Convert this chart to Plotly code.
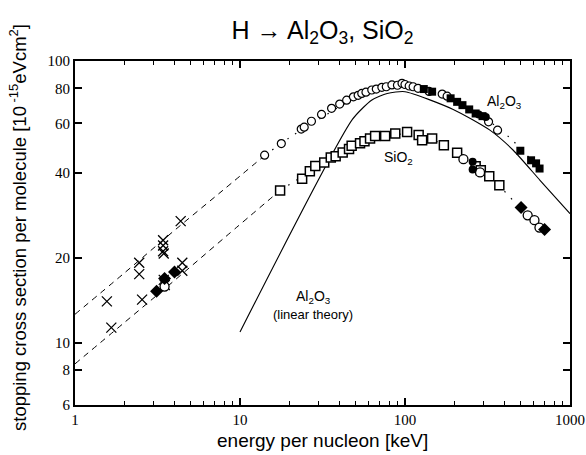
import plotly.graph_objects as go

# ---- data ----
# low-energy crosses (both targets)
cross_x = [1.56, 1.66, 2.45, 2.45, 2.55, 3.42, 3.42, 3.42, 3.45, 3.45, 3.50, 4.37, 4.47, 4.47]
cross_y = [14.0, 11.3, 19.2, 17.5, 14.2, 23.1, 22.1, 21.1, 20.7, 16.7, 16.0, 27.0, 19.2, 18.0]

# Al2O3 open circles
al_circ_x = [14.1, 17.8, 23.5, 24.5, 27.1, 31.2, 35.9, 40.2, 44.3, 48.7, 52, 54.7, 58, 62.9, 67,
             72.4, 77, 83.3, 90, 95.9, 100, 106, 112, 120, 140, 168, 180, 321, 364]
al_circ_y = [46.3, 50.9, 57.3, 58.2, 61.1, 64.6, 67.9, 70.3, 72.6, 74.6, 75.5, 76.7, 77.5, 78.9, 79.5,
             80.6, 81.0, 82.2, 82.0, 83.3, 82.5, 81.5, 81.0, 80.0, 78.0, 76.3, 75.0, 60.8, 56.8]
# Al2O3 filled squares
al_sq_x = [130, 146, 189, 207, 223, 245, 268, 295, 500, 581, 623, 654]
al_sq_y = [79.5, 77.8, 73.7, 71.6, 69.7, 67.3, 65.1, 63.7, 48.0, 44.4, 43.3, 41.5]
# Al2O3 filled circles
al_fc_x = [309, 280]
al_fc_y = [63.3, 64.5]

# SiO2 open squares
si_sq_x = [17.5, 23.8, 26.5, 28.6, 32.4, 35.5, 38.0, 41.9, 45.8, 47.5, 53.4, 56.8, 61.4, 65.9, 75.8,
           87.3, 103, 121, 127, 146, 172, 207, 268, 288, 324, 373]
si_sq_y = [34.7, 38.2, 40.6, 42.4, 43.6, 45.4, 45.9, 47.3, 48.7, 50.0, 51.0, 51.9, 53.1, 54.1, 54.2,
           55.3, 56.0, 54.6, 52.3, 53.1, 50.2, 47.2, 42.3, 40.9, 39.0, 36.2]
# SiO2 open circles
si_circ_x = [3.49, 226, 285, 554, 609, 653]
si_circ_y = [15.8, 44.8, 40.2, 28.3, 27.2, 25.6]
# SiO2 filled circles
si_fc_x = [257, 257]
si_fc_y = [43.9, 41.2]
# filled diamonds
dia_x = [3.12, 3.49, 4.01, 505, 701]
dia_y = [15.2, 16.9, 17.8, 30.2, 25.2]

# fitted curves (dashed at low energy, dotted through the data)
fit_al_x = [1, 2, 4, 8, 14, 20, 30, 45, 65, 90, 110, 150, 200, 300, 400, 500, 660]
fit_al_y = [12.6, 17.7, 25, 35, 46, 53.5, 62, 71.5, 78.5, 81.5, 81, 77.5, 72.5, 63, 55.5, 49, 41]
fit_al_split = 14
fit_si_x = [1, 2, 4, 8, 17.5, 24, 30, 40, 55, 75, 100, 130, 170, 210, 270, 330, 400, 500, 600, 700]
fit_si_y = [8.4, 11.8, 16.6, 23.5, 34.7, 39, 42.5, 46.5, 51, 54, 55, 54, 50.5, 47.5, 42.5, 38.8, 34.5, 30, 26.8, 24.8]
fit_si_split = 17.5

# linear theory (Al2O3)
lin_x = [10, 48, 63, 78, 100, 196, 327, 453, 658, 1000]
lin_y = [10.9, 62, 72.7, 76.7, 77.8, 67.3, 56.8, 48.2, 37.7, 28.7]

x_tickvals = [1, 10, 100, 1000]
x_ticktext = ["1", "10", "100", "1000"]
y_tickvals = [6, 8, 10, 20, 40, 60, 80, 100]
y_ticktext = ["6", "8", "10", "20", "40", "60", "80", "100"]

fig = go.Figure()

def split(xs, ys, s):
    lo = [(x, y) for x, y in zip(xs, ys) if x <= s]
    hi = [(x, y) for x, y in zip(xs, ys) if x >= s]
    return [p[0] for p in lo], [p[1] for p in lo], [p[0] for p in hi], [p[1] for p in hi]

for fx, fy, sp in [(fit_al_x, fit_al_y, fit_al_split), (fit_si_x, fit_si_y, fit_si_split)]:
    lx, ly, hx, hy = split(fx, fy, sp)
    fig.add_trace(go.Scatter(x=lx, y=ly, mode="lines", line=dict(color="black", width=1, dash="6px,5px", shape="spline")))
    fig.add_trace(go.Scatter(x=hx, y=hy, mode="lines", line=dict(color="black", width=1.2, dash="1.5px,8px", shape="spline")))

fig.add_trace(go.Scatter(x=lin_x, y=lin_y, mode="lines", line=dict(color="black", width=1.1, shape="spline", smoothing=0.6)))

fig.add_trace(go.Scatter(x=cross_x, y=cross_y, mode="markers",
                         marker=dict(symbol="x-thin-open", size=10, color="black", line=dict(color="black", width=1.3))))
fig.add_trace(go.Scatter(x=si_sq_x, y=si_sq_y, mode="markers",
                         marker=dict(symbol="square", size=9, color="white", line=dict(color="black", width=1.5))))
fig.add_trace(go.Scatter(x=al_circ_x, y=al_circ_y, mode="markers",
                         marker=dict(symbol="circle", size=8, color="white", line=dict(color="black", width=1.2))))
fig.add_trace(go.Scatter(x=si_circ_x, y=si_circ_y, mode="markers",
                         marker=dict(symbol="circle", size=9, color="white", line=dict(color="black", width=1.3))))
fig.add_trace(go.Scatter(x=al_sq_x, y=al_sq_y, mode="markers",
                         marker=dict(symbol="square", size=8, color="black")))
fig.add_trace(go.Scatter(x=al_fc_x + si_fc_x, y=al_fc_y + si_fc_y, mode="markers",
                         marker=dict(symbol="circle", size=8, color="black")))
fig.add_trace(go.Scatter(x=dia_x, y=dia_y, mode="markers",
                         marker=dict(symbol="diamond", size=10, color="black")))

W, H = 586, 455
L, R, T, B = 75, 16, 61, 50
pw, ph = W - L - R, H - T - B

sans = "Liberation Sans, Arial, sans-serif"
ann_font = dict(family=sans, size=14, color="black")
fig.add_annotation(x=2.606, y=1.855, xref="x", yref="y", text="Al<sub>2</sub>O<sub>3</sub>",
                   showarrow=False, font=ann_font)
fig.add_annotation(x=1.958, y=1.655, xref="x", yref="y", text="SiO<sub>2</sub>",
                   showarrow=False, font=ann_font)
fig.add_annotation(x=1.442, y=1.132, xref="x", yref="y",
                   text="Al<sub>2</sub>O<sub>3</sub><br><span style='font-size:13px'>(linear theory)</span>",
                   showarrow=False, font=ann_font)
# y-axis title
fig.add_annotation(x=(18 - L) / pw, y=1 - (228 - T) / ph, xref="paper", yref="paper", textangle=-90,
                   text="stopping cross section per molecule [10<sup> -15</sup>eVcm<sup>2</sup>]",
                   showarrow=False, xanchor="center", yanchor="middle",
                   font=dict(family=sans, size=18.5, color="black"))
# x-axis title
fig.add_annotation(x=0.5, y=-(440 - (H - B)) / ph, xref="paper", yref="paper", yanchor="middle",
                   text="energy per nucleon [keV]", showarrow=False,
                   font=dict(family=sans, size=19, color="black"))

axis_common = dict(showline=True, linecolor="black", linewidth=2, mirror="ticks", ticks="inside",
                   tickcolor="black", tickwidth=1.5, ticklen=7, showgrid=False, zeroline=False,
                   automargin=False,
                   tickfont=dict(family="Liberation Serif, Times New Roman, serif", size=15, color="black"))

minor_x = [m * d for d in (1, 10, 100) for m in range(2, 10)]
fig.update_xaxes(type="log", range=[0, 3], tickvals=x_tickvals, ticktext=x_ticktext,
                 minor=dict(tickvals=minor_x, ticks="inside", ticklen=4, tickcolor="black", tickwidth=1.2),
                 **axis_common)
fig.update_yaxes(type="log", range=[0.77815, 2], tickvals=y_tickvals, ticktext=y_ticktext,
                 **axis_common)

fig.update_layout(
    width=W, height=H,
    margin=dict(l=L, r=R, t=T, b=B),
    paper_bgcolor="white", plot_bgcolor="white",
    showlegend=False,
    title=dict(text="H → Al<sub>2</sub>O<sub>3</sub>, SiO<sub>2</sub>", x=0.5, xref="paper", xanchor="center",
               y=1 - 30 / H, yanchor="middle", yref="container",
               font=dict(family=sans, size=25, color="black")),
)

# remove the default page margin so the figure fills the 586x455 window exactly
fig.write_html("out.html", config={"displayModeBar": False},
               post_script="document.body.style.margin='0';document.documentElement.style.overflow='hidden';")
